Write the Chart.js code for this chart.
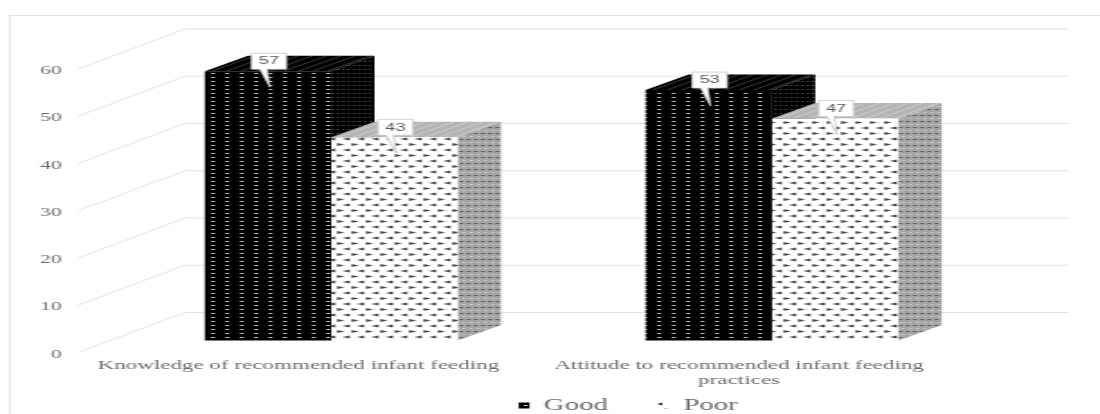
<!DOCTYPE html>
<html>
<head>
<meta charset="utf-8">
<style>
  html, body { margin: 0; background: #fff; overflow: hidden; }
  /* the source picture is stretched sideways, so the canvas is too */
  #chart { display: block; transform: scaleX(1.8); transform-origin: 0 0; filter: blur(0.3px); }
</style>
<script src="https://cdn.jsdelivr.net/npm/chart.js@4"></script>
</head>
<body>
<canvas id="chart" width="611" height="414"></canvas>
<script>
const categories = [
    'Knowledge of recommended infant feeding',
    ['Attitude to recommended infant feeding', 'practices']
];
const good = [57, 53];
const poor = [43, 47];
const yTicks = [0, 10, 20, 30, 40, 50, 60];

const gridColor = '#e3e3e3';
const textColor = '#6a6a6a';
const depthX = 24, depthY = -15.5;   // extrusion of a bar
const shiftX = 18.3, shiftY = -12;   // bars stand back from the front plane
const wallX = 59.4, wallY = -40;     // back wall

function tile(w, h, paint) {
    const c = document.createElement('canvas');
    c.width = w;
    c.height = h;
    paint(c.getContext('2d'));
    return c.getContext('2d').createPattern(c, 'repeat');
}

const blackFace = tile(8, 4, g => {
    g.fillStyle = '#000';
    g.fillRect(0, 0, 8, 4);
    g.fillStyle = '#d8d8d8';
    g.fillRect(3, 1, 2, 1);
});
const blackSide = tile(3, 4, g => {
    g.fillStyle = '#000';
    g.fillRect(0, 0, 3, 4);
    g.fillStyle = '#666';
    g.fillRect(1, 1, 1, 1);
});
const whiteFace = tile(8, 11, g => {
    g.fillStyle = '#fff';
    g.fillRect(0, 0, 8, 11);
    g.fillStyle = '#444';
    g.beginPath();
    g.moveTo(1, 1); g.lineTo(5, 2.5); g.lineTo(1, 4);
    g.closePath();
    g.fill();
    g.beginPath();
    g.moveTo(8, 6.5); g.lineTo(4, 8); g.lineTo(8, 9.5);
    g.closePath();
    g.fill();
});
const whiteSide = tile(4, 6, g => {
    g.fillStyle = '#a6a6a6';
    g.fillRect(0, 0, 4, 6);
    g.fillStyle = '#555';
    g.fillRect(1, 1, 2, 1);
    g.fillStyle = '#e0e0e0';
    g.fillRect(3, 4, 1, 1);
});

const faces = [
    { top: '#000', streak: '#777', side: blackSide },
    { top: '#b4b4b4', streak: '#e4e4e4', side: whiteSide }
];

function polygon(ctx, pts, fill) {
    ctx.fillStyle = fill;
    ctx.beginPath();
    pts.forEach((p, i) => i ? ctx.lineTo(p[0], p[1]) : ctx.moveTo(p[0], p[1]));
    ctx.closePath();
    ctx.fill();
}

const wall = {
    id: 'wall',
    afterLayout(chart) {
        // legend sits right of centre in the source
        chart.legend.left += 82.5;
        chart.legend.right += 82.5;
        chart.legend.top += 2.5;
        // tick labels are clipped to the scale box, let them run into the legend's space
        chart.scales.x.bottom += 40;
    },
    beforeDatasetsDraw(chart) {
        const { ctx, scales: { y }, chartArea } = chart;
        ctx.save();
        ctx.strokeStyle = gridColor;
        ctx.lineWidth = 1;
        // frame of the picture, open past the right and bottom edges
        ctx.strokeRect(5.5, 15.5, 650, 500);
        y.ticks.forEach(t => {
            const py = y.getPixelForValue(t.value);
            ctx.beginPath();
            ctx.moveTo(chartArea.left, py);
            ctx.lineTo(chartArea.left + wallX, py + wallY);
            ctx.lineTo(chartArea.right + wallX + 1.6, py + wallY);
            ctx.stroke();
        });
        // Good's sides first, Poor's over them; the front faces come after
        ctx.translate(shiftX, shiftY);
        chart.data.datasets.forEach((ds, i) => {
            const f = faces[i];
            chart.getDatasetMeta(i).data.forEach(bar => {
                const l = bar.x - bar.width / 2, r = bar.x + bar.width / 2;
                const t = bar.y, b = bar.base;
                polygon(ctx, [[r, t], [r + depthX, t + depthY], [r + depthX, b + depthY], [r, b]], f.side);
                polygon(ctx, [[l, t], [r, t], [r + depthX, t + depthY], [l + depthX, t + depthY]], f.top);
                ctx.strokeStyle = f.streak;
                ctx.lineWidth = 0.5;
                for (let x = l + 4; x < r; x += 8) {
                    ctx.beginPath();
                    ctx.moveTo(x, t);
                    ctx.lineTo(x + depthX, t + depthY);
                    ctx.stroke();
                }
            });
        });
        ctx.restore();
    },
    beforeDatasetDraw(chart) {
        chart.ctx.save();
        chart.ctx.translate(shiftX, shiftY);
    },
    afterDatasetDraw(chart) {
        chart.ctx.restore();
    },
    afterDatasetsDraw(chart) {
        const { ctx } = chart;
        chart.data.datasets.forEach((ds, i) => {
            chart.getDatasetMeta(i).data.forEach((bar, j) => {
                const cx = bar.x + shiftX + 0.5, top = bar.y + shiftY;
                const w = 19.4, h = 16;
                const x = cx - w / 2, y = top - 18;
                ctx.save();
                ctx.fillStyle = '#fff';
                ctx.strokeStyle = '#c8c8c8';
                ctx.lineWidth = 0.8;
                ctx.beginPath();
                ctx.moveTo(x, y);
                ctx.lineTo(x + w, y);
                ctx.lineTo(x + w, y + h);
                ctx.lineTo(cx - 1, y + h);
                ctx.lineTo(cx + 0.5, top + 16);
                ctx.lineTo(cx - 5, y + h);
                ctx.lineTo(x, y + h);
                ctx.closePath();
                ctx.fill();
                ctx.stroke();
                ctx.fillStyle = '#595959';
                ctx.font = '10px "Liberation Sans"';
                ctx.textAlign = 'center';
                ctx.textBaseline = 'middle';
                ctx.fillText(String(ds.data[j]), cx, y + h / 2 + 0.5);
                ctx.restore();
            });
        });
    }
};

new Chart(document.getElementById('chart'), {
    type: 'bar',
    data: {
        labels: categories,
        datasets: [
            { label: 'Good', data: good, backgroundColor: blackFace, clip: false },
            { label: 'Poor', data: poor, backgroundColor: whiteFace, clip: false }
        ]
    },
    options: {
        responsive: false,
        animation: false,
        devicePixelRatio: 1,
        layout: { padding: { top: 69, right: 78, left: 0, bottom: -7 } },
        datasets: { bar: { barPercentage: 1, categoryPercentage: 0.574 } },
        scales: {
            x: {
                grid: { display: false },
                border: { display: false },
                ticks: {
                    color: textColor,
                    font: { family: '"Liberation Serif"', size: 12.8, lineHeight: 1.15 },
                    maxRotation: 0,
                    autoSkip: false,
                    padding: -2
                },
                afterFit(scale) { scale.height = 14.5; }
            },
            y: {
                min: 0,
                max: 60,
                afterBuildTicks(scale) { scale.ticks = yTicks.map(v => ({ value: v })); },
                grid: { display: false },
                border: { display: false },
                ticks: {
                    color: textColor,
                    font: { family: '"Liberation Serif"', size: 12 },
                    padding: 1,
                    labelOffset: 2
                },
                afterFit(scale) { scale.width = 43.3; }
            }
        },
        plugins: {
            tooltip: { enabled: false },
            legend: {
                position: 'bottom',
                labels: {
                    color: textColor,
                    font: { family: '"Liberation Serif"', size: 16 },
                    boxWidth: 6,
                    boxHeight: 6,
                    padding: 28
                }
            }
        }
    },
    plugins: [wall]
});
</script>
</body>
</html>
